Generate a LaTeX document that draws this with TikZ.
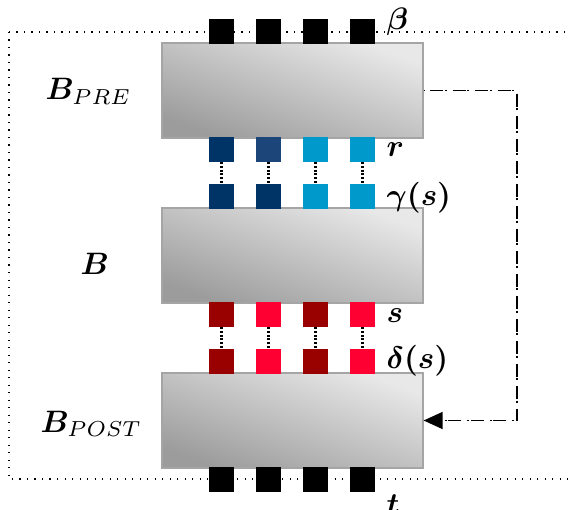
\documentclass[tikz,border=0pt]{standalone}
\usepackage{amsmath,bm}
\usetikzlibrary{arrows.meta}
\definecolor{navyA}{RGB}{0,51,102}
\definecolor{navyB}{RGB}{28,70,122}
\definecolor{lblue}{RGB}{0,153,204}
\definecolor{dred}{RGB}{153,0,0}
\definecolor{bred}{RGB}{255,0,51}
\definecolor{blkedge}{RGB}{165,165,165}
\definecolor{blklight}{RGB}{232,232,232}
\definecolor{blkdark}{RGB}{156,156,156}
\tikzset{
  blockbox/.style={draw=blkedge, line width=1.2pt, rectangle, minimum width=261pt, minimum height=95pt, inner sep=0pt,
    shading=axis, top color=blklight, bottom color=blkdark, shading angle=-20},
  sq/.style={rectangle, minimum size=25pt, inner sep=0pt, draw=none},
  lab/.style={scale=3.1, inner sep=0pt, anchor=base west},
  conn/.style={line width=2.4pt, dash pattern=on 2pt off 1.7pt},
  framedot/.style={line width=1.3pt, dash pattern=on 1.3pt off 6.2pt, line cap=butt},
  dashdot/.style={line width=1.3pt, dash pattern=on 13pt off 1.5pt on 2pt off 6pt, dash phase=16pt}
}
\begin{document}
\begin{tikzpicture}[x=1pt,y=-1pt]
\useasboundingbox (0,0) rectangle (569,510);
\clip (0,0) rectangle (569,510);
% dotted frame
\draw[framedot] (9,32) rectangle (590,479);
% blocks
\node[blockbox] (pre) at (292.5,90.5) {};
\node[blockbox] (mid) at (292.5,255.5) {};
\node[blockbox] (post) at (292.5,420.5) {};
% top and bottom black squares
\foreach \i/\x in {1/221.5,2/268.5,3/315.5,4/362.5}{
  \node[sq, fill=black] (t\i) at (\x,31.5) {};
  \node[sq, fill=black] (o\i) at (\x,479.5) {};
}
% r row and gamma row
\node[sq, fill=navyA] (r1) at (221.5,149.5) {};
\node[sq, fill=navyB] (r2) at (268.5,149.5) {};
\node[sq, fill=lblue] (r3) at (315.5,149.5) {};
\node[sq, fill=lblue] (r4) at (362.5,149.5) {};
\node[sq, fill=navyA] (g1) at (221.5,196.5) {};
\node[sq, fill=navyA] (g2) at (268.5,196.5) {};
\node[sq, fill=lblue] (g3) at (315.5,196.5) {};
\node[sq, fill=lblue] (g4) at (362.5,196.5) {};
% s row and delta row
\node[sq, fill=dred] (s1) at (221.5,314.5) {};
\node[sq, fill=bred] (s2) at (268.5,314.5) {};
\node[sq, fill=dred] (s3) at (315.5,314.5) {};
\node[sq, fill=bred] (s4) at (362.5,314.5) {};
\node[sq, fill=dred] (d1) at (221.5,361.5) {};
\node[sq, fill=bred] (d2) at (268.5,361.5) {};
\node[sq, fill=dred] (d3) at (315.5,361.5) {};
\node[sq, fill=bred] (d4) at (362.5,361.5) {};
% dotted connectors
\foreach \i in {1,2,3,4}{
  \draw[conn] (r\i.south) -- (g\i.north);
  \draw[conn] (s\i.south) -- (d\i.north);
}
% feedback connector
\coordinate (fb) at (517,90.5);
\draw[dashdot, -{Triangle[length=19pt,width=17pt]}] (pre.east) -- (fb) |- (post.east);
% labels
\node[lab] (lbeta) at (386,30) {$\boldsymbol{\beta}$};
\node[lab] (lr) at (386,157) {$\boldsymbol{r}$};
\node[lab] (lgamma) at (386,206) {$\boldsymbol{\gamma(s)}$};
\node[lab] (ls) at (386,322) {$\boldsymbol{s}$};
\node[lab] (ldelta) at (386,368) {$\boldsymbol{\delta(s)}$};
\node[lab] (lt) at (386,514) {$\boldsymbol{t}$};
\node[lab] (lpre) at (45,100) {$\boldsymbol{B}_{PRE}$};
\node[lab] (lmid) at (80,274) {$\boldsymbol{B}$};
\node[lab] (lpost) at (40,432) {$\boldsymbol{B}_{POST}$};
\end{tikzpicture}
\end{document}
